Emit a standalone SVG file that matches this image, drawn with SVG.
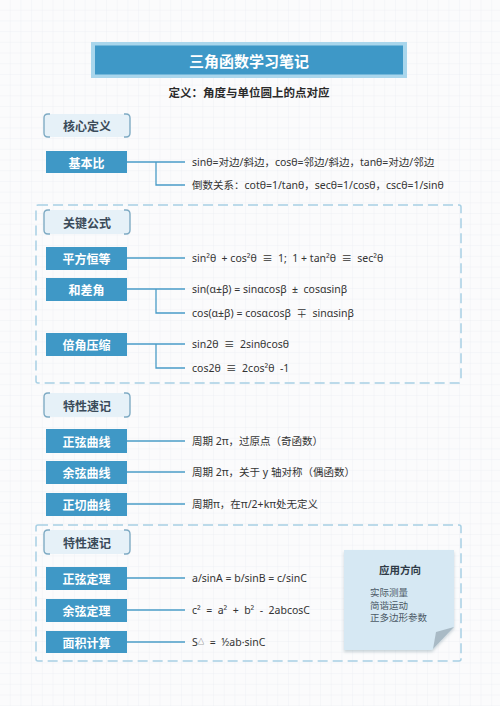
<svg xmlns="http://www.w3.org/2000/svg" width="500" height="706" viewBox="0 0 500 706">
<defs>
<pattern id="grid" width="10.7" height="10.7" patternUnits="userSpaceOnUse">
<path d="M10.7 0V10.7H0" fill="none" stroke="#eceef1" stroke-width="0.8"/>
</pattern>
<filter id="sh" x="-10%" y="-10%" width="125%" height="130%">
<feDropShadow dx="0" dy="2" stdDeviation="1.5" flood-color="#6a8796" flood-opacity="0.35"/>
</filter>
<style>
.node rect{fill:#3f98c6}
.node text{fill:#fff;font:bold 12px "Noto Sans CJK SC",sans-serif;text-anchor:middle;dominant-baseline:central}
.hdr rect{fill:#e6f1f8}
.hdr path{fill:none;stroke:#7fabc4;stroke-width:1.4}
.hdr text{fill:#3b4b5a;font:bold 12px "Noto Sans CJK SC",sans-serif;text-anchor:middle;dominant-baseline:central}
.f{fill:#333;font:10.5px "Noto Sans","Noto Sans CJK SC",sans-serif;dominant-baseline:central;white-space:pre}
.conn path{fill:none;stroke:#4a9cc7;stroke-width:1.3}
.dash{fill:none;stroke:#a8d0e4;stroke-width:1.5;stroke-dasharray:10 5}
.li{fill:#4c5a66;font:9.5px "Noto Sans CJK SC",sans-serif}
</style>
</defs>
<rect width="500" height="706" fill="#fbfbfc"/>
<rect width="500" height="706" fill="url(#grid)"/>

<g id="title">
<rect x="91" y="42" width="316" height="36" fill="#a9d6ec"/>
<rect x="95" y="45.5" width="308" height="29" fill="#3e98c7"/>
<text x="249" y="60" fill="#fff" font-family="Noto Sans CJK SC, sans-serif" font-size="15" font-weight="bold" text-anchor="middle" dominant-baseline="central">三角函数学习笔记</text>
</g>
<g id="subtitle">
<text x="249" y="92" fill="#2b2b2b" font-family="Noto Sans CJK SC, sans-serif" font-size="11.5" font-weight="bold" text-anchor="middle" dominant-baseline="central">定义：角度与单位圆上的点对应</text>
</g>

<rect class="dash" x="36" y="205" width="425" height="178" rx="2"/>
<rect class="dash" x="36" y="525" width="425" height="136" rx="2"/>

<g class="conn" id="connectors">
<path d="M127 162H185M156 162V185H185"/>
<path d="M127 258H185"/>
<path d="M127 289H185M156 289V313H185"/>
<path d="M127 344H185M156 344V368H185"/>
<path d="M127 441H185"/>
<path d="M127 472H185"/>
<path d="M127 504H185"/>
<path d="M127 578H185"/>
<path d="M127 610H185"/>
<path d="M127 642H185"/>
</g>

<g class="hdr" id="h1"><rect x="44" y="114" width="86" height="23" rx="4"/><path d="M50 114H48Q44 114 44 118V133Q44 137 48 137H50M124 114H126Q130 114 130 118V133Q130 137 126 137H124"/><text x="87" y="125.5">核心定义</text></g>
<g class="node" id="n1"><rect x="46" y="151" width="81" height="22"/><text x="86.5" y="162">基本比</text></g>
<text class="f" x="192" y="162">sinθ=对边/斜边，cosθ=邻边/斜边，tanθ=对边/邻边</text>
<text class="f" x="192" y="185">倒数关系：cotθ=1/tanθ，secθ=1/cosθ，cscθ=1/sinθ</text>

<g class="hdr" id="h2"><rect x="44" y="210" width="86" height="24" rx="4"/><path d="M50 210H48Q44 210 44 214V230Q44 234 48 234H50M124 210H126Q130 210 130 214V230Q130 234 126 234H124"/><text x="87" y="222">关键公式</text></g>
<g class="node" id="n2"><rect x="46" y="247" width="81" height="23"/><text x="86.5" y="258.5">平方恒等</text></g>
<text class="f" x="192" y="258">sin²θ  + cos²θ  ≡  1;  1 + tan²θ  ≡  sec²θ</text>
<g class="node" id="n3"><rect x="46" y="278" width="81" height="23"/><text x="86.5" y="289.5">和差角</text></g>
<text class="f" x="192" y="289">sin(α±β) = sinαcosβ  ±  cosαsinβ</text>
<text class="f" x="192" y="313">cos(α±β) = cosαcosβ  ∓  sinαsinβ</text>
<g class="node" id="n4"><rect x="46" y="333" width="81" height="23"/><text x="86.5" y="344.5">倍角压缩</text></g>
<text class="f" x="192" y="344">sin2θ  ≡  2sinθcosθ</text>
<text class="f" x="192" y="368">cos2θ  ≡  2cos²θ  -1</text>

<g class="hdr" id="h3"><rect x="44" y="393" width="86" height="24" rx="4"/><path d="M50 393H48Q44 393 44 397V413Q44 417 48 417H50M124 393H126Q130 393 130 397V413Q130 417 126 417H124"/><text x="87" y="405">特性速记</text></g>
<g class="node" id="n5"><rect x="46" y="429" width="81" height="24"/><text x="86.5" y="441">正弦曲线</text></g>
<text class="f" x="192" y="441">周期 2π，过原点（奇函数）</text>
<g class="node" id="n6"><rect x="46" y="461" width="81" height="23"/><text x="86.5" y="472.5">余弦曲线</text></g>
<text class="f" x="192" y="472">周期 2π，关于 y 轴对称（偶函数）</text>
<g class="node" id="n7"><rect x="46" y="493" width="81" height="23"/><text x="86.5" y="504.5">正切曲线</text></g>
<text class="f" x="192" y="504">周期π，在π/2+kπ处无定义</text>

<g class="hdr" id="h4"><rect x="44" y="530" width="86" height="24" rx="4"/><path d="M50 530H48Q44 530 44 534V550Q44 554 48 554H50M124 530H126Q130 530 130 534V550Q130 554 126 554H124"/><text x="87" y="542">特性速记</text></g>
<g class="node" id="n8"><rect x="46" y="567" width="81" height="23"/><text x="86.5" y="578.5">正弦定理</text></g>
<text class="f" x="192" y="578">a/sinA = b/sinB = c/sinC</text>
<g class="node" id="n9"><rect x="46" y="599" width="81" height="23"/><text x="86.5" y="610.5">余弦定理</text></g>
<text class="f" x="192" y="610">c²  =  a²  +  b²  -  2abcosC</text>
<g class="node" id="n10"><rect x="46" y="631" width="81" height="22"/><text x="86.5" y="642">面积计算</text></g>
<text class="f" x="192" y="642">S<tspan font-size="6.5" dy="-1">△</tspan><tspan dy="1">  =  ½ab·sinC</tspan></text>

<g id="note">
<path d="M344 550H454V627L432 650H344Z" fill="#d6e8f3" filter="url(#sh)"/>
<path d="M454 627L436 632L433 649Z" fill="#a9bac5"/>
<text x="400" y="569" fill="#2f3b47" font-family="Noto Sans CJK SC, sans-serif" font-size="10.5" font-weight="bold" text-anchor="middle" dominant-baseline="central">应用方向</text>
<text class="li" x="370" y="596">实际测量</text>
<text class="li" x="370" y="608.5">简谐运动</text>
<text class="li" x="370" y="621">正多边形参数</text>
</g>
</svg>
